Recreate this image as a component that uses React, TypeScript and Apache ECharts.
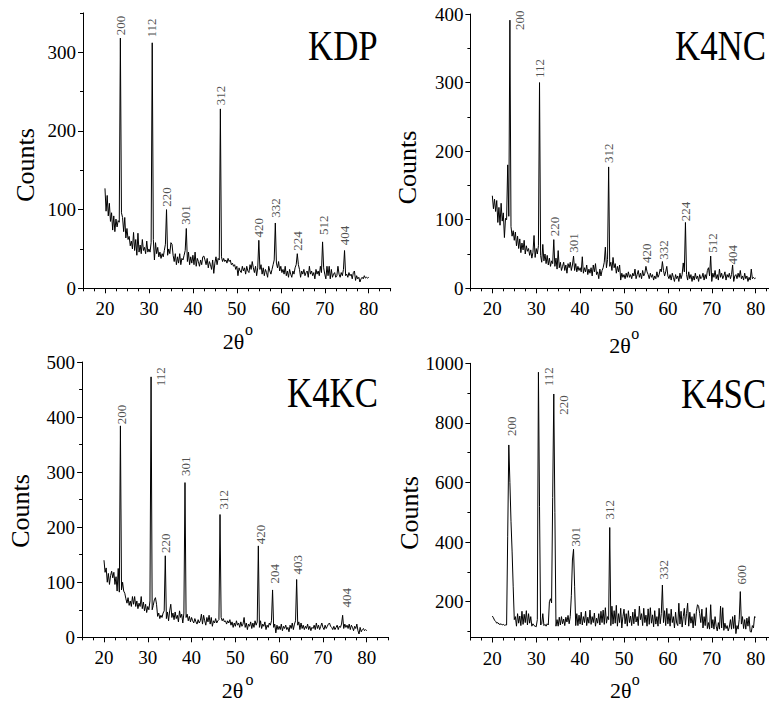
import React, { useEffect, useRef } from "react";
import * as echarts from "echarts";

const FONT = '"Liberation Serif", "Times New Roman", Times, serif';

// Sampling of the 2θ scans (degrees)
const ANGLE_START = 20;
const ANGLE_STEP = 0.25;

// Counts, 20.00° .. 80.00° in 0.25° steps (20 values per 5°)
const KDP_COUNTS = [
  127, 98, 118, 92, 108, 85, 96, 74, 92, 72, 88, 78, 86, 84, 318, 96, 90, 72, 90, 64,
  76, 62, 66, 54, 60, 50, 71, 48, 62, 42, 70, 46, 55, 44, 62, 48, 52, 44, 60, 46,
  50, 46, 58, 312, 62, 36, 58, 44, 52, 40, 46, 38, 44, 40, 48, 56, 100, 42, 50, 44,
  58, 56, 42, 34, 44, 30, 40, 32, 44, 30, 38, 36, 42, 48, 76, 34, 46, 30, 40, 32,
  42, 30, 46, 28, 38, 34, 28, 36, 30, 40, 41, 36, 30, 38, 26, 34, 30, 24, 36, 19,
  32, 40, 30, 38, 36, 228, 40, 34, 38, 34, 36, 32, 38, 34, 36, 30, 32, 28, 30, 24,
  28, 16, 26, 22, 20, 28, 22, 26, 18, 28, 22, 20, 30, 24, 34, 26, 20, 28, 16, 26,
  61, 24, 30, 18, 26, 16, 24, 20, 14, 28, 22, 18, 24, 30, 36, 83, 32, 26, 34, 22,
  28, 20, 24, 18, 28, 16, 22, 14, 24, 18, 14, 22, 18, 26, 30, 44, 30, 24, 14, 22,
  18, 24, 16, 20, 22, 14, 28, 18, 22, 16, 20, 12, 24, 18, 22, 16, 28, 20, 59, 26,
  18, 12, 28, 16, 28, 12, 24, 14, 18, 20, 14, 16, 28, 18, 14, 20, 16, 24, 48, 16,
  18, 14, 20, 16, 18, 12, 20, 22, 10, 16, 12, 14, 8, 12, 14, 12, 16, 13, 14, 13,
  14,
];

const K4NC_COUNTS = [
  135, 116, 130, 112, 128, 96, 118, 92, 124, 98, 110, 74, 102, 100, 180, 105, 391, 90, 76, 84,
  70, 82, 62, 76, 58, 72, 52, 66, 56, 70, 50, 62, 54, 58, 48, 56, 44, 52, 77, 45,
  58, 50, 62, 300, 48, 38, 64, 40, 50, 36, 48, 34, 44, 32, 40, 36, 71, 32, 44, 28,
  55, 30, 38, 26, 32, 38, 26, 34, 22, 36, 30, 38, 26, 34, 47, 26, 36, 24, 32, 26,
  30, 24, 46, 22, 30, 24, 34, 20, 28, 22, 30, 18, 34, 24, 36, 20, 24, 14, 28, 18,
  26, 30, 38, 60, 30, 42, 177, 32, 38, 26, 45, 30, 36, 22, 32, 24, 34, 12, 22, 16,
  20, 14, 22, 16, 24, 16, 20, 14, 22, 18, 28, 14, 20, 26, 16, 22, 14, 26, 18, 22,
  32, 24, 20, 14, 22, 16, 20, 12, 18, 14, 24, 16, 20, 28, 24, 39, 26, 18, 24, 32,
  18, 14, 20, 12, 22, 16, 10, 20, 14, 18, 10, 22, 14, 20, 37, 24, 96, 20, 12, 24,
  14, 20, 10, 18, 12, 22, 14, 18, 10, 20, 14, 16, 22, 12, 20, 14, 26, 30, 18, 47,
  10, 22, 16, 26, 14, 20, 12, 28, 16, 22, 14, 18, 24, 12, 20, 16, 22, 14, 20, 34,
  10, 18, 20, 14, 22, 16, 26, 14, 18, 12, 22, 14, 18, 10, 16, 12, 28, 14, 16, 14,
  15,
];

const K4KC_COUNTS = [
  140, 118, 126, 100, 116, 96, 112, 120, 108, 118, 96, 110, 84, 125, 82, 384, 86, 100, 84, 80,
  70, 62, 72, 58, 66, 56, 74, 60, 74, 56, 66, 52, 62, 56, 74, 52, 64, 48, 60, 45,
  56, 50, 66, 473, 50, 58, 68, 72, 60, 38, 44, 34, 40, 36, 44, 48, 148, 34, 46, 30,
  48, 60, 36, 44, 32, 46, 34, 40, 28, 48, 36, 42, 26, 44, 281, 36, 42, 30, 38, 28,
  36, 30, 26, 34, 28, 24, 32, 26, 30, 42, 24, 40, 30, 22, 36, 28, 40, 24, 36, 20,
  30, 26, 34, 26, 30, 32, 223, 36, 30, 34, 28, 30, 24, 30, 26, 32, 22, 28, 18, 26,
  20, 30, 22, 26, 18, 28, 20, 24, 36, 18, 26, 14, 24, 20, 28, 16, 26, 18, 30, 22,
  28, 166, 18, 30, 16, 24, 20, 28, 14, 22, 18, 26, 22, 30, 86, 18, 24, 8, 22, 14,
  20, 14, 24, 12, 20, 16, 22, 14, 18, 10, 22, 16, 26, 14, 24, 30, 105, 22, 28, 14,
  26, 16, 22, 14, 20, 16, 24, 14, 20, 12, 18, 16, 22, 14, 26, 16, 22, 14, 20, 26,
  18, 14, 22, 16, 20, 24, 26, 20, 18, 14, 20, 14, 18, 22, 14, 20, 18, 24, 40, 16,
  24, 18, 22, 16, 24, 14, 22, 18, 12, 20, 16, 24, 12, 6, 18, 10, 14, 16, 12, 14,
  12,
];

const K4SC_COUNTS = [
  152, 146, 138, 134, 128, 130, 125, 124, 126, 122, 124, 121, 122, 122, 420, 726, 600, 470, 370, 250,
  140, 150, 118, 160, 128, 152, 120, 168, 124, 158, 130, 170, 122, 160, 128, 150, 118, 126, 120, 118,
  116, 140, 970, 520, 122, 126, 160, 120, 124, 118, 126, 122, 200, 210, 196, 550, 897, 500, 118, 140,
  118, 148, 122, 150, 126, 142, 120, 148, 132, 154, 126, 150, 220, 340, 376, 250, 120, 160, 120, 155,
  125, 165, 122, 150, 130, 168, 120, 148, 128, 172, 124, 150, 130, 162, 118, 145, 128, 160, 122, 168,
  130, 172, 124, 180, 128, 150, 140, 449, 120, 185, 125, 170, 128, 188, 118, 160, 130, 178, 112, 150,
  175, 126, 160, 118, 170, 130, 152, 120, 165, 126, 175, 132, 150, 120, 185, 140, 160, 120, 178, 130,
  155, 118, 176, 124, 180, 128, 156, 116, 170, 125, 150, 118, 178, 126, 160, 256, 130, 170, 120, 178,
  126, 160, 118, 175, 130, 150, 112, 165, 128, 120, 195, 125, 168, 115, 150, 178, 122, 160, 195, 118,
  165, 128, 150, 112, 160, 120, 168, 190, 185, 160, 130, 175, 112, 150, 120, 180, 110, 130, 108, 190,
  112, 140, 108, 150, 118, 102, 130, 108, 185, 112, 180, 104, 128, 110, 120, 102, 115, 140, 108, 150,
  110, 155, 93, 120, 108, 140, 234, 125, 150, 110, 140, 108, 145, 118, 150, 100, 98, 120, 112, 150,
  148,
];

// Peak annotations: [2θ of label centre, count at label foot, Miller index]
const KDP_PEAKS: [number, number, string][] = [
  [23.55, 321, "200"], [30.65, 318, "112"], [33.9, 103, "220"], [38.4, 80, "301"],
  [46.3, 232, "312"], [54.95, 64, "420"], [58.9, 89, "332"], [63.85, 47, "224"],
  [69.65, 67, "512"], [74.5, 54, "404"],
];
const K4NC_PEAKS: [number, number, string][] = [
  [26.2, 376, "200"], [30.65, 306, "112"], [34.1, 75, "220"], [38.5, 51, "301"],
  [46.5, 182, "312"], [55.15, 36, "420"], [59.0, 41, "332"], [63.9, 97, "224"],
  [70.2, 51, "512"], [74.75, 34, "404"],
];
const K4KC_PEAKS: [number, number, string][] = [
  [24.1, 386, "200"], [33.0, 455, "112"], [34.1, 152, "220"], [38.6, 292, "301"],
  [47.2, 231, "312"], [55.8, 168, "420"], [59.0, 97, "204"], [64.1, 113, "403"],
  [75.4, 53, "404"],
];
const K4SC_PEAKS: [number, number, string][] = [
  [24.3, 754, "200"], [32.9, 921, "112"], [36.25, 826, "220"], [38.9, 384, "301"],
  [46.6, 474, "312"], [59.0, 273, "332"], [76.85, 256, "600"],
];

// Axis ticks
const X_MAJOR_TICKS = [20, 30, 40, 50, 60, 70, 80];
const X_MINOR_TICKS = [15, 17.5, 22.5, 25, 27.5, 32.5, 35, 37.5, 42.5, 45, 47.5, 52.5, 55, 57.5, 62.5, 65, 67.5, 72.5, 75, 77.5, 82.5, 85];
const KDP_Y_MAJOR = [0, 100, 200, 300];
const KDP_Y_MINOR = [50, 150, 250, 350];
const K4NC_Y_MAJOR = [0, 100, 200, 300, 400];
const K4NC_Y_MINOR = [50, 150, 250, 350];
const K4KC_Y_MAJOR = [0, 100, 200, 300, 400, 500];
const K4KC_Y_MINOR = [50, 150, 250, 350, 450];
const K4SC_Y_MAJOR = [200, 400, 600, 800, 1000];
const K4SC_Y_MINOR = [100, 300, 500, 700, 900];

const SAMPLE_NAMES = ["KDP", "K4NC", "K4KC", "K4SC"];
const X_RANGE = [15, 85];
const Y_RANGES = [[0, 350], [0, 400], [0, 500], [80, 1000]];
const X_AXIS_TITLE = "2θ";
const X_AXIS_DEGREE = "o";
const Y_AXIS_TITLE = "Counts";

const PANELS = [
  { name: SAMPLE_NAMES[0], counts: KDP_COUNTS, peaks: KDP_PEAKS, yRange: Y_RANGES[0], yMajor: KDP_Y_MAJOR, yMinor: KDP_Y_MINOR },
  { name: SAMPLE_NAMES[1], counts: K4NC_COUNTS, peaks: K4NC_PEAKS, yRange: Y_RANGES[1], yMajor: K4NC_Y_MAJOR, yMinor: K4NC_Y_MINOR },
  { name: SAMPLE_NAMES[2], counts: K4KC_COUNTS, peaks: K4KC_PEAKS, yRange: Y_RANGES[2], yMajor: K4KC_Y_MAJOR, yMinor: K4KC_Y_MINOR },
  { name: SAMPLE_NAMES[3], counts: K4SC_COUNTS, peaks: K4SC_PEAKS, yRange: Y_RANGES[3], yMajor: K4SC_Y_MAJOR, yMinor: K4SC_Y_MINOR },
];

// Layout (pixels)
const LAYOUT = [
  { left: 83, top: 12.9, width: 307.7, height: 275.4, title: [308, 45.8], ylab: [25, 165], xlab: [222.7, 341.9], deg: [249, 329.9] },
  { left: 470.4, top: 14, width: 307.2, height: 274.3, title: [675, 45.5], ylab: [407.5, 167.5], xlab: [609.3, 345.9], deg: [635.3, 333.2] },
  { left: 82.1, top: 362, width: 306.5, height: 275.3, title: [287, 393.3], ylab: [20, 511], xlab: [221.7, 690.9], deg: [249.5, 679.5] },
  { left: 470.4, top: 363.3, width: 307.2, height: 274.2, title: [681, 393.7], ylab: [409, 513], xlab: [610, 690.9], deg: [635.8, 679.9] },
];

const plain = (v: number) => String(v);

function buildOption() {
  const grid: any[] = [];
  const xAxis: any[] = [];
  const yAxis: any[] = [];
  const series: any[] = [];
  const graphic: any[] = [];

  PANELS.forEach((p, i) => {
    const L = LAYOUT[i];
    grid.push({ left: L.left, top: L.top, width: L.width, height: L.height, outerBoundsMode: "none", containLabel: false });

    const axisLine = { show: true, onZero: false, lineStyle: { color: "#000", width: 1 } };
    xAxis.push({
      type: "value", gridIndex: i, position: "bottom", min: X_RANGE[0], max: X_RANGE[1],
      axisLine,
      axisTick: { show: true, inside: false, length: 5, customValues: X_MAJOR_TICKS, lineStyle: { color: "#000", width: 1 } },
      axisLabel: { show: true, customValues: X_MAJOR_TICKS, formatter: plain, margin: 11, fontSize: 19, fontFamily: FONT, color: "#000" },
      splitLine: { show: false },
    });
    xAxis.push({
      type: "value", gridIndex: i, position: "bottom", min: X_RANGE[0], max: X_RANGE[1],
      axisLine: { show: false, onZero: false },
      axisTick: { show: true, inside: false, length: 3, customValues: X_MINOR_TICKS, lineStyle: { color: "#000", width: 1 } },
      axisLabel: { show: false },
      splitLine: { show: false },
    });
    yAxis.push({
      type: "value", gridIndex: i, position: "left", min: p.yRange[0], max: p.yRange[1],
      axisLine,
      axisTick: { show: true, inside: false, length: 5, customValues: p.yMajor, lineStyle: { color: "#000", width: 1 } },
      axisLabel: { show: true, customValues: p.yMajor, formatter: plain, margin: 7, fontSize: 19, fontFamily: FONT, color: "#000" },
      splitLine: { show: false },
    });
    yAxis.push({
      type: "value", gridIndex: i, position: "left", min: p.yRange[0], max: p.yRange[1],
      axisLine: { show: false, onZero: false },
      axisTick: { show: true, inside: false, length: 3, customValues: p.yMinor, lineStyle: { color: "#000", width: 1 } },
      axisLabel: { show: false },
      splitLine: { show: false },
    });

    series.push({
      type: "line", name: p.name, xAxisIndex: 2 * i, yAxisIndex: 2 * i,
      data: p.counts.map((c, k) => [ANGLE_START + k * ANGLE_STEP, c]),
      showSymbol: false, symbol: "none", silent: true,
      lineStyle: { color: "#000", width: 1 },
    });
    series.push({
      type: "scatter", name: p.name + " peaks", xAxisIndex: 2 * i, yAxisIndex: 2 * i,
      data: p.peaks.map(([x, y, t]) => ({ value: [x, y], name: t })),
      symbolSize: 1, silent: true,
      itemStyle: { color: "rgba(0,0,0,0)" },
      label: {
        show: true, position: "top", distance: 0, rotate: 90, align: "left", verticalAlign: "middle",
        formatter: "{b}", fontSize: 13, fontFamily: FONT, color: "#222",
      },
    });

    graphic.push({
      type: "text", x: L.title[0], y: L.title[1], scaleX: 0.83, silent: true,
      style: { text: p.name, fontSize: 42, fontFamily: FONT, fill: "#000", align: "left", verticalAlign: "middle" },
    });
    graphic.push({
      type: "text", x: L.ylab[0], y: L.ylab[1], rotation: Math.PI / 2, silent: true,
      style: { text: Y_AXIS_TITLE, fontSize: 26, fontFamily: FONT, fill: "#000", align: "center", verticalAlign: "middle" },
    });
    graphic.push({
      type: "text", x: L.xlab[0], y: L.xlab[1], silent: true,
      style: { text: X_AXIS_TITLE, fontSize: 22, fontFamily: FONT, fill: "#000", align: "left", verticalAlign: "middle" },
    });
    graphic.push({
      type: "text", x: L.deg[0], y: L.deg[1], silent: true,
      style: { text: X_AXIS_DEGREE, fontSize: 16, fontFamily: FONT, fill: "#000", align: "center", verticalAlign: "middle" },
    });
  });

  return {
    animation: false,
    backgroundColor: "#fff",
    grid, xAxis, yAxis, series, graphic,
  };
}

export default function App() {
  const ref = useRef<HTMLDivElement>(null);
  useEffect(() => {
    document.body.style.margin = "0";
    const chart = echarts.init(ref.current as HTMLDivElement, null, { renderer: "svg" });
    chart.setOption(buildOption() as any);
    return () => chart.dispose();
  }, []);
  return <div ref={ref} style={{ width: 769, height: 704, background: "#fff" }} />;
}
